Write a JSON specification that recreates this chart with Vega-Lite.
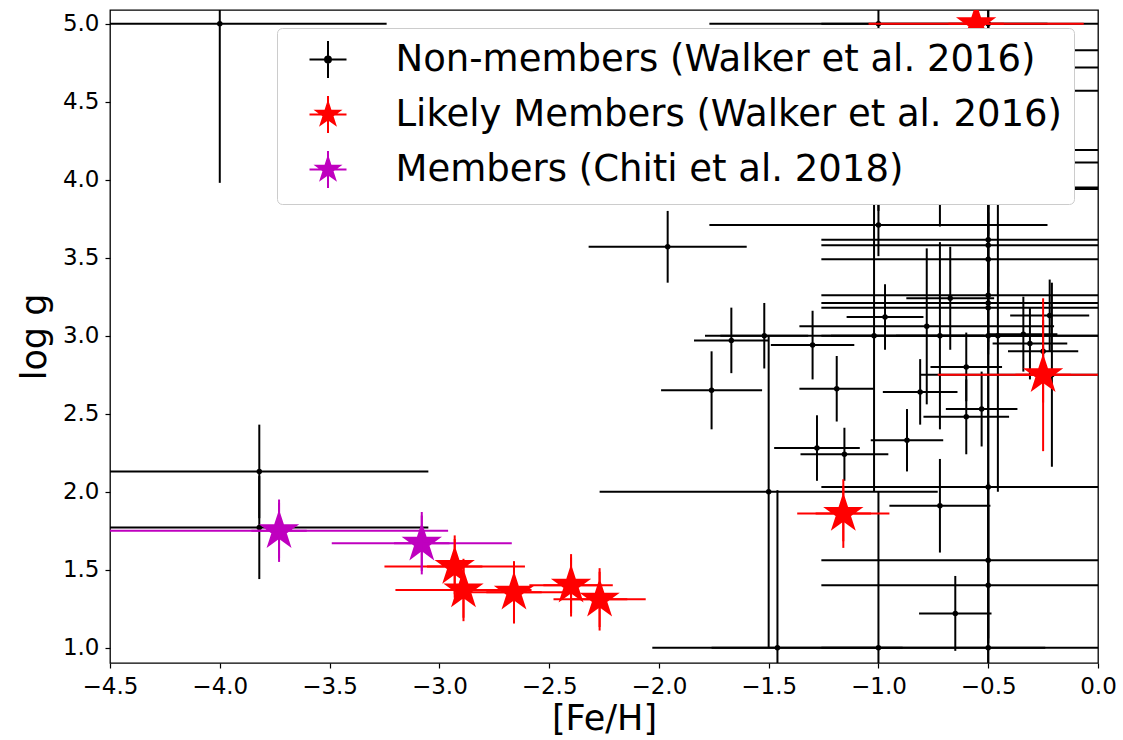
{
  "$schema": "https://vega.github.io/schema/vega-lite/v6.json",
  "width": 988,
  "height": 653,
  "autosize": {"type": "none"},
  "padding": {"left": 110, "top": 10, "right": 25, "bottom": 77},
  "background": "white",
  "config": {
    "font": "DejaVu Sans",
    "view": {"stroke": "black", "strokeWidth": 1.3},
    "axis": {
      "domain": false,
      "grid": false,
      "ticks": true,
      "tickColor": "black",
      "tickSize": 5,
      "tickWidth": 1.2,
      "labelFont": "DejaVu Sans",
      "labelFontSize": 23,
      "labelColor": "black",
      "labelFlush": false,
      "titleFont": "DejaVu Sans",
      "titleFontSize": 35,
      "titleFontWeight": "normal",
      "titleColor": "black"
    }
  },
  "data": {
    "values": [
      {"sample": "Non-members (Walker et al. 2016)", "feh": -4.00, "logg": 5.00, "feh_err": 0.76, "logg_err": 1.02},
      {"sample": "Non-members (Walker et al. 2016)", "feh": -3.82, "logg": 2.13, "feh_err": 0.77, "logg_err": 0.30},
      {"sample": "Non-members (Walker et al. 2016)", "feh": -3.82, "logg": 1.77, "feh_err": 0.77, "logg_err": 0.33},
      {"sample": "Non-members (Walker et al. 2016)", "feh": -1.96, "logg": 3.57, "feh_err": 0.36, "logg_err": 0.23},
      {"sample": "Non-members (Walker et al. 2016)", "feh": -1.67, "logg": 2.97, "feh_err": 0.17, "logg_err": 0.21},
      {"sample": "Non-members (Walker et al. 2016)", "feh": -1.52, "logg": 3.00, "feh_err": 0.20, "logg_err": 0.21},
      {"sample": "Non-members (Walker et al. 2016)", "feh": -1.30, "logg": 2.94, "feh_err": 0.19, "logg_err": 0.22},
      {"sample": "Non-members (Walker et al. 2016)", "feh": -1.76, "logg": 2.65, "feh_err": 0.23, "logg_err": 0.25},
      {"sample": "Non-members (Walker et al. 2016)", "feh": -1.19, "logg": 2.66, "feh_err": 0.17, "logg_err": 0.21},
      {"sample": "Non-members (Walker et al. 2016)", "feh": -1.28, "logg": 2.28, "feh_err": 0.195, "logg_err": 0.21},
      {"sample": "Non-members (Walker et al. 2016)", "feh": -1.155, "logg": 2.24, "feh_err": 0.20, "logg_err": 0.17},
      {"sample": "Non-members (Walker et al. 2016)", "feh": -1.50, "logg": 2.00, "feh_err": 0.77, "logg_err": 1.00},
      {"sample": "Non-members (Walker et al. 2016)", "feh": -1.46, "logg": 1.00, "feh_err": 0.57, "logg_err": 1.01},
      {"sample": "Non-members (Walker et al. 2016)", "feh": -1.00, "logg": 1.00, "feh_err": 0.76, "logg_err": 1.00},
      {"sample": "Non-members (Walker et al. 2016)", "feh": -0.50, "logg": 1.00, "feh_err": 0.76, "logg_err": 1.00},
      {"sample": "Non-members (Walker et al. 2016)", "feh": -0.87, "logg": 2.33, "feh_err": 0.165, "logg_err": 0.20},
      {"sample": "Non-members (Walker et al. 2016)", "feh": -0.50, "logg": 2.03, "feh_err": 0.76, "logg_err": 1.00},
      {"sample": "Non-members (Walker et al. 2016)", "feh": -0.72, "logg": 1.91, "feh_err": 0.23, "logg_err": 0.30},
      {"sample": "Non-members (Walker et al. 2016)", "feh": -0.50, "logg": 1.56, "feh_err": 0.76, "logg_err": 0.50},
      {"sample": "Non-members (Walker et al. 2016)", "feh": -0.50, "logg": 1.40, "feh_err": 0.76, "logg_err": 0.50},
      {"sample": "Non-members (Walker et al. 2016)", "feh": -0.65, "logg": 1.22, "feh_err": 0.165, "logg_err": 0.24},
      {"sample": "Non-members (Walker et al. 2016)", "feh": -1.00, "logg": 3.71, "feh_err": 0.77, "logg_err": 0.20},
      {"sample": "Non-members (Walker et al. 2016)", "feh": -0.50, "logg": 3.615, "feh_err": 0.76, "logg_err": 0.30},
      {"sample": "Non-members (Walker et al. 2016)", "feh": -0.50, "logg": 3.58, "feh_err": 0.76, "logg_err": 0.30},
      {"sample": "Non-members (Walker et al. 2016)", "feh": -0.50, "logg": 3.49, "feh_err": 0.76, "logg_err": 0.30},
      {"sample": "Non-members (Walker et al. 2016)", "feh": -0.50, "logg": 3.26, "feh_err": 0.76, "logg_err": 0.30},
      {"sample": "Non-members (Walker et al. 2016)", "feh": -0.50, "logg": 3.21, "feh_err": 0.76, "logg_err": 0.30},
      {"sample": "Non-members (Walker et al. 2016)", "feh": -0.50, "logg": 3.18, "feh_err": 0.76, "logg_err": 0.30},
      {"sample": "Non-members (Walker et al. 2016)", "feh": -0.673, "logg": 3.24, "feh_err": 0.20, "logg_err": 0.33},
      {"sample": "Non-members (Walker et al. 2016)", "feh": -0.97, "logg": 3.12, "feh_err": 0.175, "logg_err": 0.21},
      {"sample": "Non-members (Walker et al. 2016)", "feh": -0.78, "logg": 3.06, "feh_err": 0.58, "logg_err": 0.50},
      {"sample": "Non-members (Walker et al. 2016)", "feh": -1.02, "logg": 3.00, "feh_err": 0.77, "logg_err": 1.00},
      {"sample": "Non-members (Walker et al. 2016)", "feh": -0.72, "logg": 3.00, "feh_err": 0.20, "logg_err": 0.60},
      {"sample": "Non-members (Walker et al. 2016)", "feh": -0.50, "logg": 3.00, "feh_err": 0.76, "logg_err": 1.00},
      {"sample": "Non-members (Walker et al. 2016)", "feh": -0.456, "logg": 3.00, "feh_err": 0.76, "logg_err": 1.00},
      {"sample": "Non-members (Walker et al. 2016)", "feh": -0.34, "logg": 3.01, "feh_err": 0.155, "logg_err": 0.24},
      {"sample": "Non-members (Walker et al. 2016)", "feh": -0.31, "logg": 2.95, "feh_err": 0.17, "logg_err": 0.23},
      {"sample": "Non-members (Walker et al. 2016)", "feh": -0.22, "logg": 3.13, "feh_err": 0.18, "logg_err": 0.23},
      {"sample": "Non-members (Walker et al. 2016)", "feh": -0.25, "logg": 2.90, "feh_err": 0.16, "logg_err": 0.20},
      {"sample": "Non-members (Walker et al. 2016)", "feh": -0.21, "logg": 2.75, "feh_err": 0.60, "logg_err": 0.59},
      {"sample": "Non-members (Walker et al. 2016)", "feh": -0.60, "logg": 2.80, "feh_err": 0.163, "logg_err": 0.22},
      {"sample": "Non-members (Walker et al. 2016)", "feh": -0.81, "logg": 2.64, "feh_err": 0.17, "logg_err": 0.21},
      {"sample": "Non-members (Walker et al. 2016)", "feh": -0.53, "logg": 2.53, "feh_err": 0.163, "logg_err": 0.24},
      {"sample": "Non-members (Walker et al. 2016)", "feh": -0.60, "logg": 2.48, "feh_err": 0.195, "logg_err": 0.24},
      {"sample": "Non-members (Walker et al. 2016)", "feh": -1.00, "logg": 5.00, "feh_err": 0.77, "logg_err": 1.20},
      {"sample": "Non-members (Walker et al. 2016)", "feh": -0.50, "logg": 5.00, "feh_err": 0.76, "logg_err": 1.00},
      {"sample": "Non-members (Walker et al. 2016)", "feh": -0.50, "logg": 4.83, "feh_err": 0.76, "logg_err": 0.30},
      {"sample": "Non-members (Walker et al. 2016)", "feh": -0.50, "logg": 4.72, "feh_err": 0.76, "logg_err": 0.30},
      {"sample": "Non-members (Walker et al. 2016)", "feh": -0.50, "logg": 4.57, "feh_err": 0.76, "logg_err": 0.30},
      {"sample": "Non-members (Walker et al. 2016)", "feh": -0.50, "logg": 4.19, "feh_err": 0.76, "logg_err": 0.30},
      {"sample": "Non-members (Walker et al. 2016)", "feh": -0.50, "logg": 4.11, "feh_err": 0.76, "logg_err": 0.30},
      {"sample": "Non-members (Walker et al. 2016)", "feh": -0.50, "logg": 3.95, "feh_err": 0.76, "logg_err": 0.30},
      {"sample": "Non-members (Walker et al. 2016)", "feh": -0.50, "logg": 3.94, "feh_err": 0.76, "logg_err": 0.30},
      {"sample": "Non-members (Walker et al. 2016)", "feh": -0.72, "logg": 4.00, "feh_err": 0.20, "logg_err": 0.30},
      {"sample": "Likely Members (Walker et al. 2016)", "feh": -2.93, "logg": 1.52, "feh_err": 0.32, "logg_err": 0.20},
      {"sample": "Likely Members (Walker et al. 2016)", "feh": -2.89, "logg": 1.37, "feh_err": 0.31, "logg_err": 0.20},
      {"sample": "Likely Members (Walker et al. 2016)", "feh": -2.66, "logg": 1.355, "feh_err": 0.24, "logg_err": 0.20},
      {"sample": "Likely Members (Walker et al. 2016)", "feh": -2.40, "logg": 1.40, "feh_err": 0.19, "logg_err": 0.20},
      {"sample": "Likely Members (Walker et al. 2016)", "feh": -2.27, "logg": 1.31, "feh_err": 0.21, "logg_err": 0.20},
      {"sample": "Likely Members (Walker et al. 2016)", "feh": -1.16, "logg": 1.86, "feh_err": 0.21, "logg_err": 0.22},
      {"sample": "Likely Members (Walker et al. 2016)", "feh": -0.25, "logg": 2.75, "feh_err": 0.48, "logg_err": 0.49},
      {"sample": "Likely Members (Walker et al. 2016)", "feh": -0.555, "logg": 5.00, "feh_err": 0.49, "logg_err": 0.30},
      {"sample": "Members (Chiti et al. 2018)", "feh": -3.73, "logg": 1.75, "feh_err": 0.77, "logg_err": 0.20},
      {"sample": "Members (Chiti et al. 2018)", "feh": -3.08, "logg": 1.67, "feh_err": 0.41, "logg_err": 0.20}
    ]
  },
  "encoding": {
    "x": {
      "field": "feh",
      "type": "quantitative",
      "scale": {"domain": [-4.5, 0], "nice": false, "zero": false, "clamp": true},
      "axis": {"title": "[Fe/H]", "values": [-4.5, -4, -3.5, -3, -2.5, -2, -1.5, -1, -0.5, 0], "format": ".1f", "labelPadding": 7, "titlePadding": 3}
    },
    "y": {
      "field": "logg",
      "type": "quantitative",
      "scale": {"domain": [0.902, 5.088], "nice": false, "zero": false, "clamp": true},
      "axis": {"title": "log g", "values": [1, 1.5, 2, 2.5, 3, 3.5, 4, 4.5, 5], "format": ".1f", "labelPadding": 6, "titlePadding": 10}
    }
  },
  "layer": [
    {
      "transform": [{"filter": {"field": "sample", "equal": "Non-members (Walker et al. 2016)"}}],
      "mark": {"type": "errorbar", "color": "black", "thickness": 2, "rule": {"strokeWidth": 2}},
      "encoding": {"xError": {"field": "feh_err"}}
    },
    {
      "transform": [{"filter": {"field": "sample", "equal": "Non-members (Walker et al. 2016)"}}],
      "mark": {"type": "errorbar", "color": "black", "thickness": 2, "rule": {"strokeWidth": 2}},
      "encoding": {"yError": {"field": "logg_err"}}
    },
    {
      "transform": [{"filter": {"field": "sample", "equal": "Non-members (Walker et al. 2016)"}}],
      "mark": {"type": "circle", "color": "black", "size": 30, "opacity": 1}
    },
    {
      "transform": [{"filter": {"field": "sample", "equal": "Likely Members (Walker et al. 2016)"}}],
      "mark": {"type": "errorbar", "color": "#ff0000", "thickness": 2, "rule": {"strokeWidth": 2}},
      "encoding": {"xError": {"field": "feh_err"}}
    },
    {
      "transform": [{"filter": {"field": "sample", "equal": "Likely Members (Walker et al. 2016)"}}],
      "mark": {"type": "errorbar", "color": "#ff0000", "thickness": 2, "rule": {"strokeWidth": 2}},
      "encoding": {"yError": {"field": "logg_err"}}
    },
    {
      "transform": [{"filter": {"field": "sample", "equal": "Members (Chiti et al. 2018)"}}],
      "mark": {"type": "errorbar", "color": "#bf00bf", "thickness": 2, "rule": {"strokeWidth": 2}},
      "encoding": {"xError": {"field": "feh_err"}}
    },
    {
      "transform": [{"filter": {"field": "sample", "equal": "Members (Chiti et al. 2018)"}}],
      "mark": {"type": "errorbar", "color": "#bf00bf", "thickness": 2, "rule": {"strokeWidth": 2}},
      "encoding": {"yError": {"field": "logg_err"}}
    },
    {
      "transform": [{"filter": {"field": "sample", "oneOf": ["Likely Members (Walker et al. 2016)", "Members (Chiti et al. 2018)"]}}],
      "mark": {"type": "point", "filled": true, "opacity": 1, "size": 3067, "strokeWidth": 2, "clip": true},
      "encoding": {
        "fill": {
          "field": "sample",
          "type": "nominal",
          "scale": {"domain": ["Non-members (Walker et al. 2016)", "Likely Members (Walker et al. 2016)", "Members (Chiti et al. 2018)"], "range": ["black", "#ff0000", "#bf00bf"]},
          "legend": {"title": null, "orient": "none", "legendX": 167, "legendY": 18, "padding": 12, "rowPadding": 10, "labelFontSize": 37, "labelFont": "DejaVu Sans", "labelColor": "black", "labelOffset": 48, "symbolOffset": 19.5, "symbolSize": 1369, "symbolStrokeWidth": 2, "fillColor": "white", "strokeColor": "#cccccc", "cornerRadius": 5, "labelLimit": 2000}
        },
        "stroke": {
          "field": "sample",
          "type": "nominal",
          "scale": {"domain": ["Non-members (Walker et al. 2016)", "Likely Members (Walker et al. 2016)", "Members (Chiti et al. 2018)"], "range": ["black", "#ff0000", "#bf00bf"]},
          "legend": {"title": null, "orient": "none", "legendX": 167, "legendY": 18, "padding": 12, "rowPadding": 10, "labelFontSize": 37, "labelFont": "DejaVu Sans", "labelColor": "black", "labelOffset": 48, "symbolOffset": 19.5, "symbolSize": 1369, "symbolStrokeWidth": 2, "fillColor": "white", "strokeColor": "#cccccc", "cornerRadius": 5, "labelLimit": 2000}
        },
        "shape": {
          "field": "sample",
          "type": "nominal",
          "scale": {"domain": ["Non-members (Walker et al. 2016)", "Likely Members (Walker et al. 2016)", "Members (Chiti et al. 2018)"], "range": ["M-1,0H1M0,-1V1M-0.16,0A0.16,0.16 0 1,1 0.16,0A0.16,0.16 0 1,1 -0.16,0Z", "M0,-0.65L0.146,-0.201L0.618,-0.201L0.236,0.077L0.382,0.526L0,0.248L-0.382,0.526L-0.236,0.077L-0.618,-0.201L-0.146,-0.201ZM-1,0H1M0,-1V1", "M0,-0.65L0.146,-0.201L0.618,-0.201L0.236,0.077L0.382,0.526L0,0.248L-0.382,0.526L-0.236,0.077L-0.618,-0.201L-0.146,-0.201ZM-1,0H1M0,-1V1"]},
          "legend": {"title": null, "orient": "none", "legendX": 167, "legendY": 18, "padding": 12, "rowPadding": 10, "labelFontSize": 37, "labelFont": "DejaVu Sans", "labelColor": "black", "labelOffset": 48, "symbolOffset": 19.5, "symbolSize": 1369, "symbolStrokeWidth": 2, "fillColor": "white", "strokeColor": "#cccccc", "cornerRadius": 5, "labelLimit": 2000}
        }
      }
    }
  ]
}
